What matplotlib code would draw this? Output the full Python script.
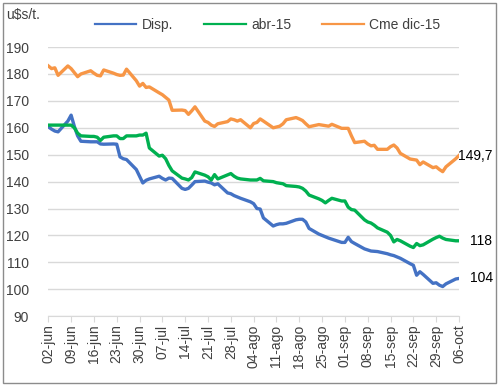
import pandas as pd
import matplotlib
matplotlib.use('Agg')
import matplotlib.pyplot as plt
from matplotlib.patches import Rectangle

plt.rcParams['font.family'] = ['Liberation Sans', 'DejaVu Sans']

# dias habiles del 02-jun al 06-oct (2015)
fechas = pd.bdate_range('2015-06-02', '2015-10-06')

# valores por semana (mar, mie, jue, vie, lun)
disp = [160.4, 159.5, 158.8, 158.5, 162.5,
        164.7, 160.5, 157, 155, 154.8,
        154.8, 154.8, 154, 153.9, 154,
        153.9, 149.2, 148.5, 148.2, 144.5,
        142, 139.5, 140.5, 141, 142,
        141.2, 140.6, 141.3, 141.2, 137.5,
        137.1, 137.5, 138.7, 140, 140.2,
        139.8, 139.5, 138.8, 139.2, 135.8,
        135.5, 134.8, 134.3, 133.8, 132.5,
        131.8, 130, 129.8, 126.5, 123.5,
        124, 124.3, 124.3, 124.5, 125.8,
        126, 126, 125, 122.6, 120.5,
        120, 119.5, 119, 118.6, 117.4,
        117.4, 119.3, 117.7, 117, 115,
        114.6, 114.2, 114.1, 114, 113.2,
        112.8, 112.5, 112, 111.5, 109.5,
        108.9, 105.2, 106.5, 105.5, 102.2,
        102.4, 101.5, 101, 102, 103.8,
        104]

abr15 = [161, 161, 161, 161, 161,
         161, 160, 158, 157, 156.8,
         156.8, 156.5, 155.3, 156.5, 157,
         157, 156, 156, 157, 157,
         157.3, 157.3, 158, 152.5, 149.5,
         149.8, 148.5, 146, 144, 141.3,
         141, 140.6, 141.5, 143.6, 142.4,
         141.8, 140.6, 142.6, 141, 142.5,
         143, 142, 141.3, 141, 140.6,
         140.6, 140.6, 141.2, 140.3, 140,
         139.6, 139.4, 139.2, 138.5, 138.2,
         138, 137.5, 136.5, 135, 133.6,
         133, 132.1, 133, 133.8, 132.8,
         132.8, 130.5, 129.6, 129.4, 125.8,
         125, 124.6, 123.8, 122.8, 121.2,
         120, 117.6, 118.5, 118, 116,
         115.5, 117, 116.2, 116.5, 118.6,
         119.2, 119.7, 119, 118.5, 118,
         118]

cme_dic15 = [183, 182, 182.3, 179.5, 183,
             182, 180.5, 179, 180, 181.2,
             180.3, 179.5, 179.3, 181.5, 180.3,
             179.8, 179.5, 179.6, 181.8, 177.5,
             175.5, 176.5, 175, 175.2, 173,
             172.3, 171.3, 170.3, 166.5, 166.6,
             166.4, 165, 166.3, 167.8, 162.5,
             162, 161, 160.5, 161.5, 162.3,
             163.3, 163, 162.5, 163, 160,
             161.6, 162, 163.3, 162.5, 160,
             160.3, 160.6, 161.5, 163, 163.8,
             163.3, 162.7, 161.5, 160.4, 161.2,
             161, 160.8, 160.6, 161.3, 159.8,
             159.8, 159.8, 157, 154.5, 155,
             154, 153.3, 153.5, 152, 152,
             153, 153.6, 152.5, 150.5, 148.4,
             148.2, 148, 146.3, 147.3, 145.2,
             145.5, 144.5, 143.7, 145.5, 148.5,
             149.7]

etiquetas_x = ['02-jun', '09-jun', '16-jun', '23-jun', '30-jun', '07-jul', '14-jul',
               '21-jul', '28-jul', '04-ago', '11-ago', '18-ago', '25-ago', '01-sep',
               '08-sep', '15-sep', '22-sep', '29-sep', '06-oct']
fechas_x = pd.date_range('2015-06-02', '2015-10-06', freq='7D')

fig = plt.figure(figsize=(5, 3.86), dpi=100)
ax = fig.add_axes([0.0966, 0.181, 0.8214, 0.697])

ax.plot(fechas, disp, color='#4472C4', lw=2.4, label='Disp.')
ax.plot(fechas, abr15, color='#00B050', lw=2.4, label='abr-15')
ax.plot(fechas, cme_dic15, color='#F79646', lw=2.4, label='Cme dic-15')

ax.set_ylim(90, 190)
ax.set_yticks(range(90, 191, 10))
ax.set_xlim(fechas[0], fechas[-1])
ax.set_xticks(fechas_x)
ax.set_xticklabels(etiquetas_x, rotation=90)
ax.grid(axis='y', color='#d9d9d9', lw=1)
ax.set_axisbelow(True)
for s in ['top', 'right', 'left']:
    ax.spines[s].set_visible(False)
ax.spines['bottom'].set_color('#d9d9d9')
ax.tick_params(axis='y', length=0, pad=14, labelsize=10, labelcolor='#404040')
ax.tick_params(axis='x', length=4, color='#d9d9d9', pad=2, labelsize=10, labelcolor='#404040')

# etiquetas del ultimo valor
ax.annotate('149,7', (fechas[-1], cme_dic15[-1]), xytext=(-1, 0), textcoords='offset points',
            va='center', ha='left', fontsize=10)
ax.annotate('118', (fechas[-1], abr15[-1]), xytext=(8, 0), textcoords='offset points',
            va='center', ha='left', fontsize=10)
ax.annotate('104', (fechas[-1], disp[-1]), xytext=(8, 0), textcoords='offset points',
            va='center', ha='left', fontsize=10)

fig.text(0.012, 0.962, 'u$s/t.', fontsize=10, color='#404040', va='center', ha='left')
leg = fig.legend(loc='center', bbox_to_anchor=(0.535, 0.935), ncol=3, frameon=False,
                 fontsize=10, handlelength=3, columnspacing=2.2, handletextpad=0.4)
for l in leg.get_lines():
    l.set_linewidth(1.6)
for t in leg.get_texts():
    t.set_color('#404040')

fig.patches.append(Rectangle((0.006, 0.007), 0.985, 0.985, transform=fig.transFigure,
                             fill=False, ec='#8c8c8c', lw=1))

fig.savefig('out.png', dpi=100)
